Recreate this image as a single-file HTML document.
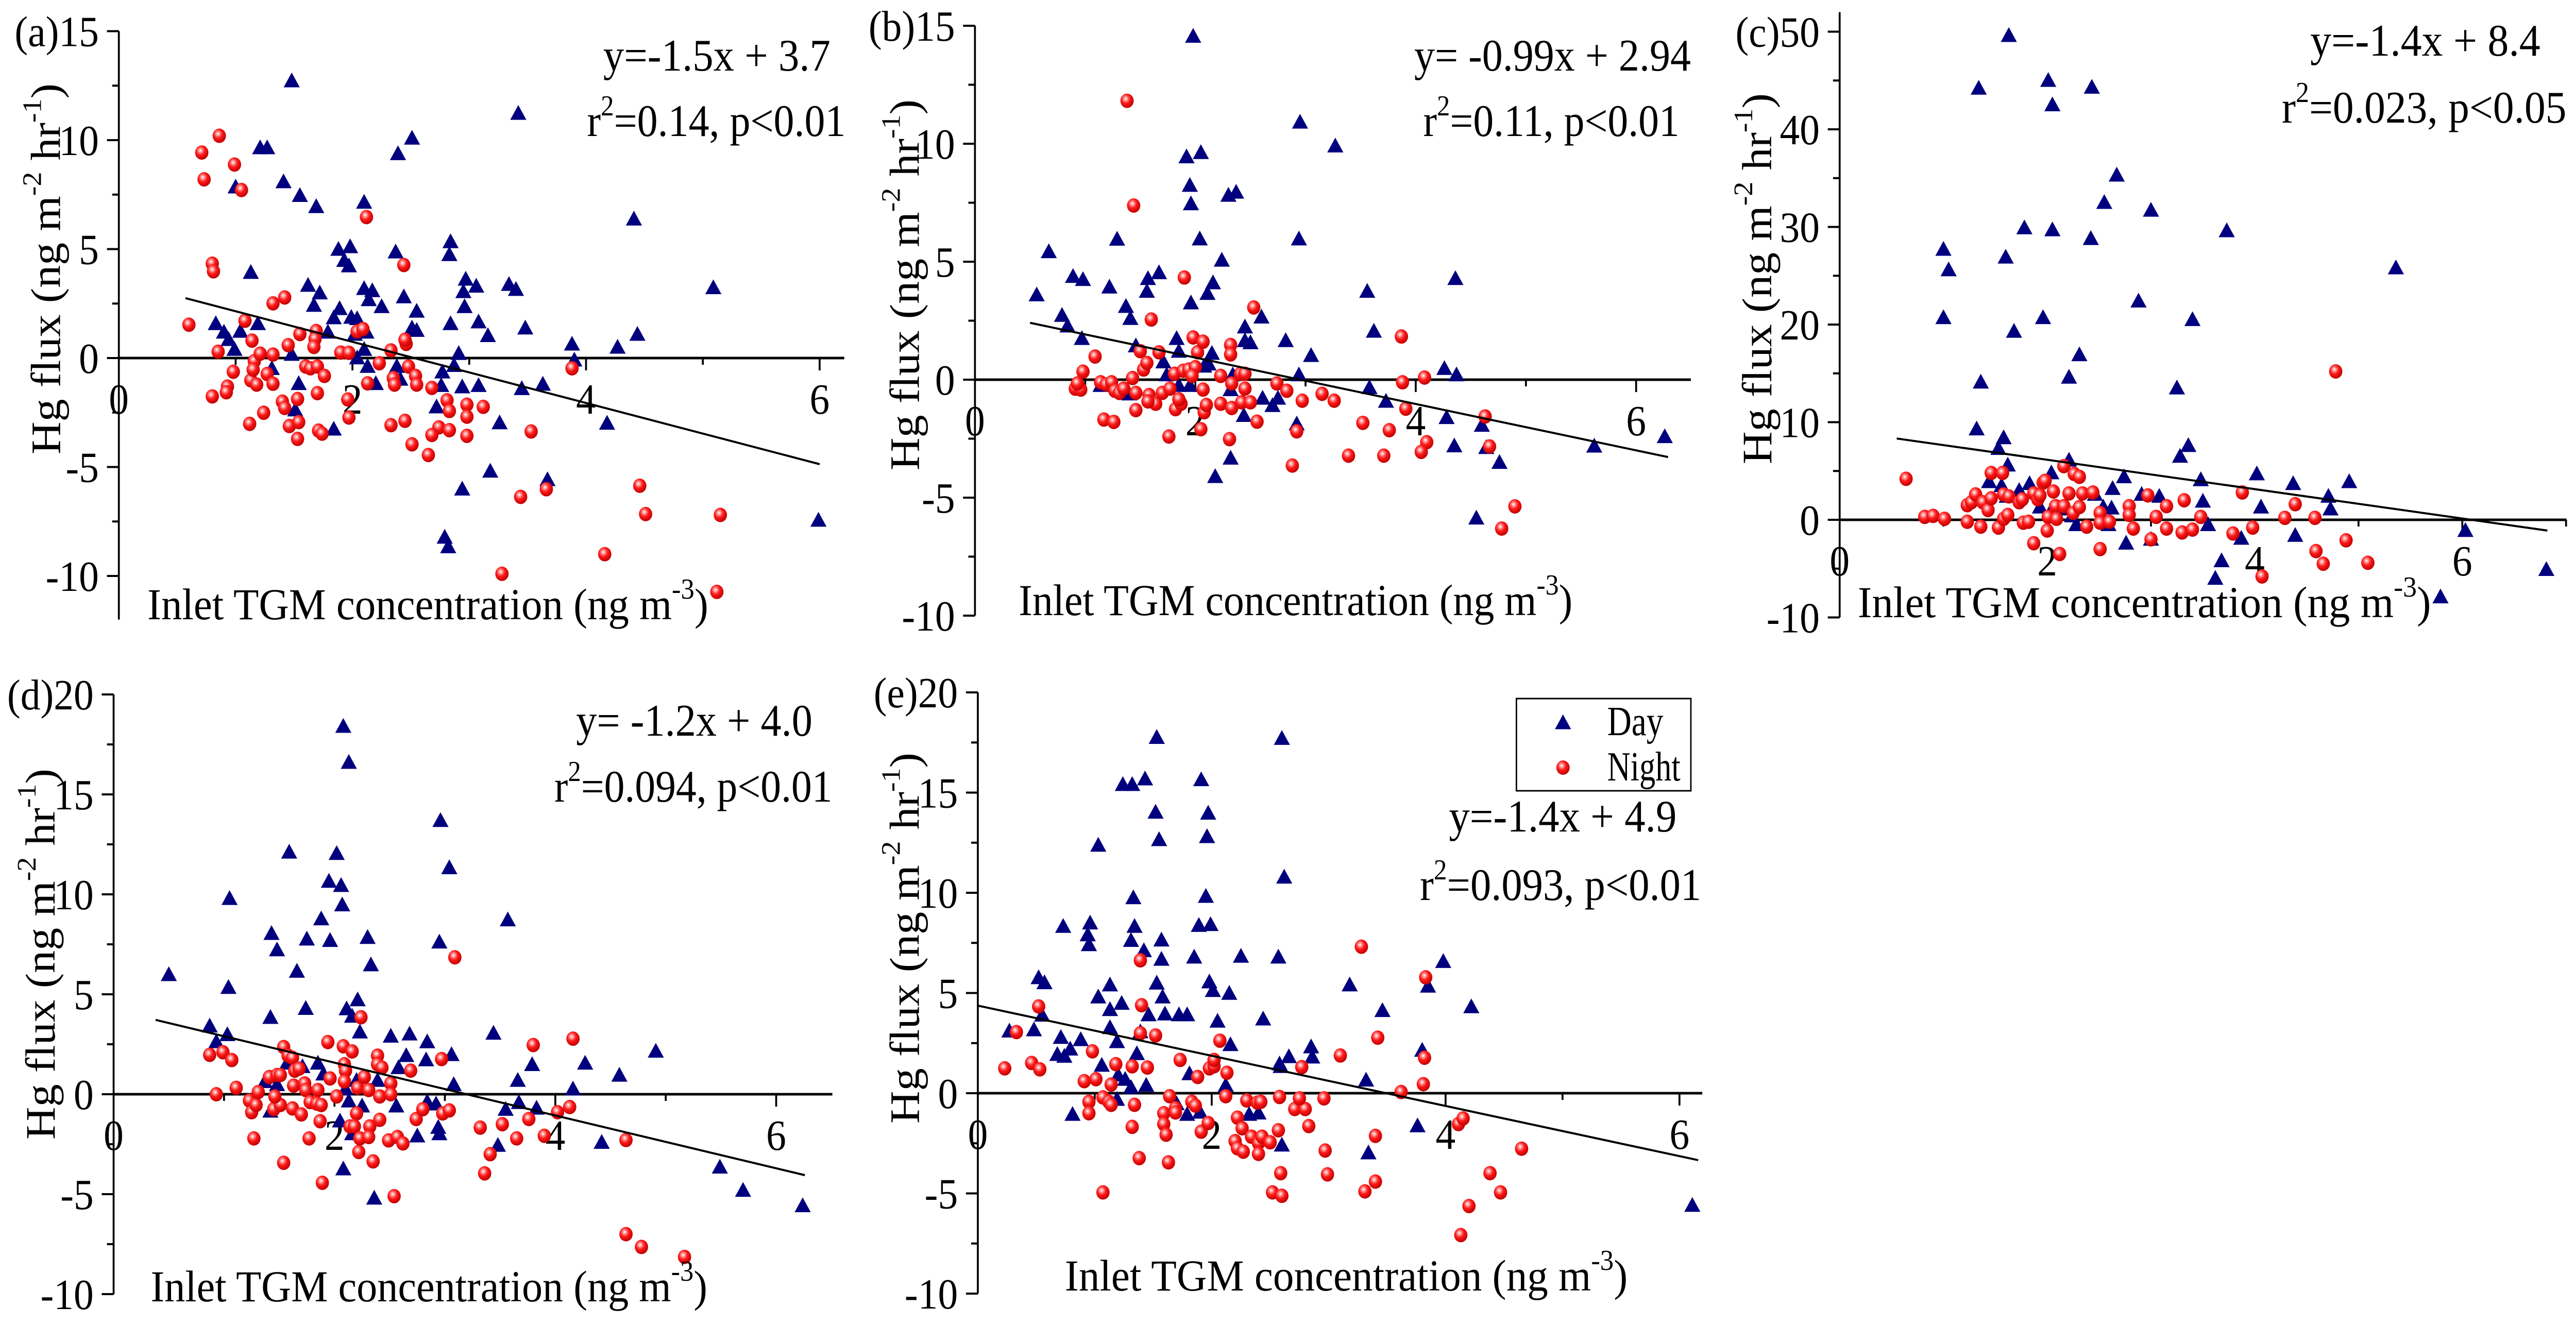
<!DOCTYPE html>
<html><head><meta charset="utf-8"><style>
html,body{margin:0;padding:0;background:#fff;width:100vw;height:100vh;overflow:hidden;}
svg{display:block;position:absolute;left:0;top:0;width:100vw;height:100vh;overflow:hidden;}
text{font-family:"Liberation Serif",serif;fill:#000;}
</style></head><body>
<svg id="fig" viewBox="0 0 5419 2570" preserveAspectRatio="none" xmlns="http://www.w3.org/2000/svg">
<defs>
<radialGradient id="ball" cx="0.4" cy="0.36" r="0.64">
<stop offset="0" stop-color="#ffffff"/><stop offset="0.2" stop-color="#ff9a9a"/><stop offset="0.5" stop-color="#ff1a1a"/><stop offset="1" stop-color="#c00000"/>
</radialGradient>
</defs>
</svg>
<script>
// ---- data (x = inlet TGM, y = Hg flux) ----
const aDay=[[1.48,12.67],[3.42,11.18],[1.21,9.6],[1.27,9.6],[2.39,9.33],[2.51,10.04],[1.0,7.8],[1.41,8.04],[1.55,7.41],[1.69,6.9],[2.1,7.1],[2.84,5.29],[2.83,4.7],[2.37,4.82],[1.88,4.94],[1.98,5.06],[1.93,4.43],[1.97,4.18],[4.41,6.33],[5.09,3.18],[1.13,3.88],[1.62,3.29],[1.72,2.94],[2.1,3.14],[2.17,3.04],[2.14,2.63],[2.25,2.31],[2.44,2.76],[2.55,2.1],[1.67,2.37],[1.89,2.22],[1.84,1.8],[1.99,1.82],[2.04,1.76],[2.97,3.57],[2.95,3.0],[2.96,2.31],[3.06,3.25],[3.34,3.33],[3.4,3.1],[2.84,1.53],[3.08,1.61],[3.16,0.98],[3.48,1.33],[2.51,1.33],[2.55,1.22],[0.83,1.53],[0.9,1.14],[0.94,0.8],[1.04,1.18],[1.19,1.53],[0.99,0.35],[1.48,0.12],[1.79,1.14],[3.88,0.59],[4.27,0.45],[4.44,1.04],[3.9,-0.14],[2.91,0.16],[2.87,-0.39],[2.77,-0.69],[2.76,-1.31],[2.94,-1.37],[3.08,-1.31],[3.45,-1.45],[3.63,-1.25],[2.72,-2.29],[3.26,-3.02],[4.18,-3.04],[3.18,-5.24],[2.94,-6.06],[3.67,-5.63],[2.79,-8.27],[2.82,-8.71],[5.99,-7.49],[1.54,-1.22],[1.51,-2.43],[1.84,-3.31],[2.2,-1.22],[2.13,-0.43],[2.38,-0.43],[2.41,-1.02],[1.31,-0.53],[2.04,-0.04],[2.1,0.35],[2.02,1.04],[2.12,1.14]];
const aNight=[[0.6,1.53],[0.71,9.43],[0.73,8.2],[0.86,10.2],[0.99,8.88],[1.05,7.71],[0.8,4.33],[0.81,3.98],[2.12,6.47],[2.44,4.27],[1.32,2.51],[1.42,2.78],[1.08,1.71],[0.85,0.29],[1.14,0.8],[0.98,-0.63],[0.8,-1.76],[0.93,-1.31],[0.92,-1.57],[1.13,-1.02],[1.16,-0.14],[1.15,-0.53],[1.21,0.2],[1.32,0.16],[1.27,-0.73],[1.32,-1.18],[1.24,-2.51],[1.12,-3.02],[1.18,-1.22],[1.45,0.59],[1.55,1.1],[1.69,1.24],[1.68,0.88],[1.67,0.51],[1.6,-0.39],[1.64,-0.47],[1.7,-0.39],[1.76,-0.82],[1.4,-2.0],[1.42,-2.29],[1.53,-1.88],[1.7,-1.61],[1.46,-3.12],[1.54,-2.94],[1.53,-3.71],[1.71,-3.33],[1.74,-3.47],[1.9,0.25],[1.97,0.24],[2.04,1.22],[2.09,1.33],[1.96,-1.9],[1.97,-2.73],[2.13,-1.16],[2.23,-0.24],[2.33,0.35],[2.46,0.65],[2.45,0.84],[2.48,-0.39],[2.35,-0.92],[2.36,-1.22],[2.54,-0.82],[2.55,-1.22],[2.68,-1.37],[2.81,-1.94],[2.83,-2.43],[2.98,-2.14],[2.98,-2.69],[3.12,-2.24],[2.33,-3.08],[2.45,-2.88],[2.74,-3.18],[2.68,-3.53],[2.83,-3.31],[2.98,-3.57],[2.51,-3.96],[2.65,-4.45],[3.53,-3.37],[3.88,-0.47],[3.28,-9.9],[3.44,-6.37],[3.66,-6.02],[4.16,-9.0],[4.46,-5.86],[4.51,-7.16],[5.15,-7.2],[5.12,-10.73]];
const aFitX=[0.57,6.0];
const aFitY=[2.75,-4.87];

const bDay=[[1.98,14.51],[0.56,3.55],[0.67,5.38],[0.79,2.68],[0.84,2.23],[0.89,4.33],[0.98,4.2],[0.97,1.7],[1.22,3.88],[1.29,5.91],[1.37,3.06],[1.41,2.55],[1.56,3.7],[1.57,4.24],[1.67,4.49],[1.46,1.39],[1.92,9.4],[2.05,9.58],[1.95,8.19],[1.96,7.41],[2.04,5.92],[1.96,3.21],[2.11,3.61],[2.16,4.06],[2.24,5.02],[2.3,7.77],[2.37,7.9],[1.83,1.7],[1.85,1.16],[2.45,2.19],[2.6,2.61],[2.45,1.61],[2.5,1.52],[2.82,1.61],[3.05,0.98],[2.95,10.87],[3.27,9.86],[2.94,5.92],[3.56,3.7],[3.62,2.01],[2.15,1.07],[2.12,0.62],[2.08,0.53],[2.94,0.16],[3.58,-0.38],[3.73,-0.96],[4.26,0.43],[4.37,0.16],[4.36,4.24],[4.28,-1.65],[4.35,-2.85],[4.6,-1.98],[4.64,-2.92],[4.76,-3.55],[4.55,-5.91],[5.62,-2.86],[6.26,-2.46],[2.18,-4.15],[2.32,-3.37],[2.44,-1.56],[2.61,-0.83],[2.7,-1.14],[2.75,-0.83],[2.92,-1.92],[1.62,-0.92],[1.14,-0.29],[1.4,-0.65],[1.71,0.71],[1.74,0.16],[1.85,-0.29],[1.95,-0.29],[2.32,-0.47],[2.34,0.16]];
const bNight=[[1.38,11.82],[1.44,7.38],[1.9,4.33],[1.6,2.55],[2.53,3.06],[3.87,1.83],[1.09,0.98],[0.98,0.34],[0.91,-0.38],[0.96,-0.42],[0.93,-0.16],[1.14,-0.11],[1.19,-0.2],[1.24,-0.11],[1.27,-0.47],[1.31,-0.56],[1.35,-0.38],[1.43,0.07],[1.46,-0.56],[1.5,1.21],[1.53,0.43],[1.56,0.71],[1.58,-0.65],[1.64,-1.02],[1.57,-0.92],[1.46,-1.29],[1.17,-1.69],[1.26,-1.79],[1.67,1.16],[1.7,-0.56],[1.77,-0.38],[1.81,0.25],[1.89,0.38],[1.94,0.43],[1.82,-1.25],[1.87,-1.02],[1.85,-0.83],[1.76,-2.41],[1.98,1.79],[2.02,1.16],[2.07,1.61],[2.0,0.53],[1.97,0.16],[2.07,-0.42],[2.08,-1.38],[2.1,-1.07],[2.05,-2.1],[2.23,0.16],[2.32,1.47],[2.32,1.07],[2.33,-0.16],[2.23,-1.02],[2.33,-1.2],[2.31,-2.52],[2.41,0.25],[2.45,0.25],[2.45,-0.38],[2.42,-0.96],[2.5,-0.96],[2.56,-1.78],[2.74,-0.16],[2.83,-0.47],[2.92,-2.19],[2.97,-0.89],[2.88,-3.64],[3.15,-0.6],[3.26,-0.89],[3.39,-3.22],[3.52,-1.83],[3.71,-3.22],[3.76,-2.14],[3.88,-0.11],[3.91,-1.23],[4.08,0.09],[4.1,-2.65],[4.05,-3.06],[4.63,-1.56],[4.67,-2.83],[4.9,-5.37],[4.78,-6.31]];
const bFitX=[0.5,6.29];
const bFitY=[2.41,-3.28];

const cDay=[[1.63,49.5],[1.34,44.1],[2.01,44.9],[2.05,42.4],[2.43,44.2],[2.67,35.2],[2.55,32.4],[3.0,31.6],[1.78,29.8],[2.05,29.6],[2.42,28.7],[3.73,29.5],[1.0,27.6],[1.05,25.5],[1.6,26.8],[5.36,25.7],[2.88,22.3],[1.0,20.6],[1.96,20.6],[3.4,20.4],[1.68,19.2],[2.31,16.8],[2.21,14.5],[1.36,14.0],[3.25,13.4],[1.32,9.2],[1.58,8.3],[1.53,7.2],[3.36,7.5],[3.28,6.4],[1.62,5.5],[2.21,6.0],[2.74,4.3],[2.04,4.7],[1.44,3.8],[3.48,4.0],[4.02,4.6],[4.37,3.6],[4.91,3.8],[4.71,2.3],[4.73,1.0],[4.06,1.2],[3.5,1.8],[2.63,3.1],[2.91,2.5],[3.08,2.3],[1.73,2.9],[1.83,3.6],[1.56,3.4],[1.61,2.3],[1.93,1.2],[2.03,0.7],[2.46,2.5],[2.54,1.2],[2.62,1.1],[2.28,-0.6],[2.59,-0.6],[3.55,-0.6],[3.87,-2.0],[3.0,-2.1],[2.76,-2.5],[4.39,-1.7],[3.68,-4.3],[3.62,-6.1],[6.03,-1.2],[6.81,-5.2],[5.79,-8.0],[2.24,0.3],[2.18,1.0]];
const cNight=[[0.64,4.2],[0.82,0.3],[0.9,0.4],[1.01,0.1],[1.23,1.5],[1.27,1.8],[1.31,2.6],[1.23,-0.2],[1.36,-0.7],[1.38,1.8],[1.43,1.0],[1.46,2.2],[1.46,4.8],[1.57,4.8],[1.53,-0.8],[1.58,0.1],[1.62,0.5],[1.58,2.6],[1.63,2.4],[1.73,1.8],[1.76,2.1],[1.77,-0.3],[1.82,-0.2],[1.87,-2.4],[1.87,2.7],[1.91,2.1],[1.96,3.8],[1.98,4.0],[1.93,2.5],[2.01,0.3],[2.0,-1.1],[2.06,2.9],[2.08,1.4],[2.09,0.1],[2.12,-3.5],[2.16,5.5],[2.16,1.4],[2.21,2.7],[2.26,4.7],[2.31,4.4],[2.25,0.7],[2.31,1.3],[2.34,2.7],[2.38,-0.7],[2.44,2.8],[2.51,0.7],[2.51,-0.3],[2.51,-3.0],[2.6,-0.2],[2.79,1.4],[2.79,0.5],[2.83,-0.9],[2.97,2.5],[3.0,-2.0],[3.05,0.3],[3.15,1.4],[3.15,-0.9],[3.32,2.0],[3.3,-1.3],[3.4,-1.0],[3.48,0.3],[3.79,-1.4],[3.88,2.8],[3.98,-0.8],[4.07,-5.8],[4.29,0.2],[4.39,1.6],[4.58,0.2],[4.59,-3.2],[4.66,-4.5],[4.78,15.2],[4.88,-2.1],[5.09,-4.4]];
const cFitX=[0.55,6.82];
const cFitY=[8.33,-1.1];

const dDay=[[0.5,5.93],[0.87,3.36],[0.93,2.57],[1.03,2.93],[1.05,9.74],[1.04,5.29],[1.42,3.79],[1.43,7.99],[1.48,7.17],[1.59,12.06],[1.66,6.1],[1.74,4.24],[1.75,7.71],[1.88,8.72],[1.95,10.6],[1.96,7.64],[2.02,11.99],[2.06,10.39],[2.07,9.42],[2.08,18.35],[2.13,16.55],[2.11,4.22],[2.16,3.85],[2.21,4.67],[2.23,3.06],[2.3,7.79],[2.33,6.42],[2.96,13.64],[3.04,11.28],[2.95,7.56],[3.57,8.67],[2.51,2.85],[2.68,2.96],[2.84,2.57],[2.83,1.67],[2.65,1.88],[3.06,1.93],[2.58,1.28],[3.08,0.43],[3.44,3.0],[3.79,1.43],[3.66,0.64],[4.16,0.21],[4.27,1.5],[4.58,0.9],[4.91,2.1],[3.55,-0.81],[3.67,-0.47],[3.83,-0.75],[4.42,-2.46],[3.48,-2.61],[2.75,-2.14],[2.94,-1.71],[2.95,-2.03],[2.84,-0.43],[2.92,-0.54],[2.56,-0.64],[2.08,-3.79],[2.36,-5.25],[5.49,-3.7],[5.7,-4.86],[6.24,-5.63],[1.37,0.58],[1.42,-0.9],[1.48,0.43],[1.57,1.5],[1.71,1.33],[1.85,1.5],[1.9,0.96],[2.05,-1.39],[2.1,0.21],[2.13,-0.39],[2.2,0.64],[2.25,-0.64],[2.39,0.64],[2.16,-2.03]];
const dNight=[[0.87,1.97],[0.99,2.1],[1.07,1.71],[0.93,0.0],[1.11,0.32],[1.23,-0.32],[1.25,-0.9],[1.29,-0.54],[1.31,0.11],[1.27,-2.21],[1.41,0.86],[1.48,0.96],[1.51,0.96],[1.45,-0.75],[1.51,-0.54],[1.46,-0.11],[1.54,2.36],[1.58,1.93],[1.62,1.82],[1.64,1.18],[1.68,1.28],[1.63,0.43],[1.73,0.54],[1.74,0.21],[1.62,-0.71],[1.7,-1.01],[1.54,-3.43],[1.78,-0.39],[1.85,0.21],[1.84,-0.47],[1.88,-0.54],[1.87,-1.35],[1.77,-2.21],[1.89,-4.43],[1.94,2.61],[1.96,0.79],[2.02,-0.11],[2.08,2.4],[2.16,2.14],[2.09,1.5],[2.1,1.18],[2.09,0.64],[2.14,-1.61],[2.2,-0.96],[2.18,-1.61],[2.21,0.32],[2.24,3.85],[2.22,-2.89],[2.23,-2.21],[2.27,0.86],[2.31,0.21],[2.32,-1.61],[2.31,-2.14],[2.35,-3.36],[2.39,1.93],[2.39,1.5],[2.43,1.33],[2.41,-0.11],[2.41,-1.28],[2.51,0.54],[2.51,0.0],[2.49,-2.31],[2.57,-2.14],[2.62,-2.46],[2.54,-5.1],[2.69,1.18],[2.74,-1.24],[2.8,-0.75],[2.97,1.76],[2.98,-0.96],[3.04,-0.81],[3.09,6.85],[3.32,-1.67],[3.41,-3.0],[3.36,-3.96],[3.52,-1.5],[3.65,-2.21],[3.76,-1.24],[3.8,2.46],[3.9,-2.08],[4.02,-0.9],[4.13,-0.64],[4.16,2.78],[4.64,-2.29],[4.64,-7.0],[4.78,-7.64],[5.17,-8.14]];
const dFitX=[0.38,6.26];
const dFitY=[3.72,-4.05];

const eDay=[[1.53,17.7],[2.6,17.65],[1.24,15.35],[1.32,15.35],[1.43,15.63],[1.91,15.59],[1.52,13.97],[1.97,13.92],[1.96,12.75],[1.55,12.6],[1.03,12.32],[2.62,10.73],[1.33,9.7],[1.95,9.77],[0.73,8.27],[0.96,8.44],[0.94,7.85],[0.95,7.36],[1.34,8.27],[1.89,8.32],[1.99,8.36],[1.31,7.57],[1.42,7.06],[1.57,7.59],[1.57,6.63],[1.85,6.74],[2.25,6.78],[2.57,6.74],[3.98,6.52],[0.52,5.71],[0.57,5.46],[1.13,5.35],[1.53,5.44],[1.98,5.5],[2.01,5.07],[2.15,4.93],[3.18,5.35],[3.85,5.29],[4.22,4.26],[3.46,4.07],[1.03,4.75],[1.23,4.43],[1.13,4.12],[1.58,4.75],[1.46,3.86],[1.6,3.9],[1.72,3.86],[1.79,3.86],[2.44,3.65],[2.05,3.54],[0.55,3.84],[0.27,3.05],[0.48,3.11],[0.71,2.73],[0.68,1.88],[0.79,2.15],[0.88,2.62],[0.74,1.79],[1.13,3.22],[1.19,2.52],[1.36,1.92],[1.39,3.01],[2.16,2.37],[2.85,2.26],[2.86,1.75],[2.66,1.77],[2.58,1.41],[2.59,1.28],[3.8,2.09],[1.06,1.34],[1.2,0.85],[1.26,0.64],[1.31,0.23],[1.44,0.34],[1.81,0.92],[2.12,0.34],[3.32,0.6],[0.81,-1.11],[1.19,-0.36],[1.7,-0.58],[1.79,-1.11],[1.9,-1.0],[2.32,-1.11],[2.4,-1.04],[2.6,-2.64],[3.34,-3.03],[3.76,-1.68],[6.11,-5.65]];
const eNight=[[0.23,1.24],[0.33,3.05],[0.46,1.51],[0.53,1.19],[0.52,4.33],[0.91,0.6],[0.95,-0.43],[0.95,-1.0],[0.98,2.09],[1.01,0.7],[1.07,-0.21],[1.12,-0.43],[1.14,0.43],[1.14,-0.58],[1.18,1.45],[1.07,-4.95],[1.32,1.34],[1.34,-0.58],[1.32,-1.68],[1.38,-3.24],[1.39,6.63],[1.4,4.39],[1.39,2.99],[1.45,1.28],[1.52,2.88],[1.64,-0.15],[1.59,-1.0],[1.59,-1.54],[1.61,-2.07],[1.63,-3.45],[1.69,-0.75],[1.69,-0.96],[1.73,1.66],[1.83,-0.43],[1.86,-0.62],[1.88,0.81],[1.91,-1.92],[1.97,-1.49],[1.98,1.24],[2.02,1.34],[2.02,1.66],[2.07,2.62],[2.13,1.02],[2.12,-0.15],[2.22,-1.22],[2.26,-1.75],[2.3,-0.36],[2.39,-0.47],[2.42,-0.43],[2.2,-2.39],[2.22,-2.75],[2.27,-2.92],[2.34,-2.17],[2.4,-2.49],[2.4,-3.03],[2.43,-2.17],[2.5,-2.45],[2.52,-4.95],[2.6,-5.12],[2.59,-3.99],[2.58,-0.19],[2.57,-1.85],[2.71,-0.79],[2.8,-0.79],[2.75,-0.26],[2.77,1.3],[2.83,-1.64],[2.96,-0.26],[2.97,-2.86],[2.99,-4.05],[3.1,1.88],[3.28,7.31],[3.31,-4.9],[3.4,-4.41],[3.4,-2.13],[3.42,2.77],[3.62,0.06],[3.81,0.45],[3.82,1.77],[3.83,5.78],[4.11,-1.54],[4.15,-1.26],[4.13,-7.08],[4.2,-5.63],[4.38,-3.99],[4.47,-4.95],[4.65,-2.77]];
const eFitX=[0,6.16];
const eFitY=[4.37,-3.34];

const xTickLabels=["0","2","4","6"];
const eqA=["y=-1.5x + 3.7","=0.14, p<0.01"];
const eqB=["y= -0.99x + 2.94","=0.11, p<0.01"];
const eqC=["y=-1.4x + 8.4","=0.023, p<0.05"];
const eqD=["y= -1.2x + 4.0","=0.094, p<0.01"];
const eqE=["y=-1.4x + 4.9","=0.093, p<0.01"];

// ---- layout ----
const NS="http://www.w3.org/2000/svg";
const svg=document.getElementById('fig');
function mk(tag,attrs,parent){const e=document.createElementNS(NS,tag);for(const k in attrs)e.setAttribute(k,attrs[k]);(parent||svg).appendChild(e);return e;}

const panels=[
 {id:'a',ox:250,oy:695,ux:245.7,uy:42.3,ymin:-12,ymax:15,ymaj:5,ymin2:2.5,yl0:-10,xEnd:1776,day:aDay,night:aNight,fx:aFitX,fy:aFitY,eq:eqA,eqx:[1269,1235],eqy:[137,264],eqw:[478,544],tx:310,ty:1202,tw:1180,yt:[126,522]},
 {id:'b',ox:2051,oy:737,ux:231.8,uy:45.8,ymin:-10,ymax:15,ymaj:5,ymin2:2.5,yl0:-10,xEnd:3557,day:bDay,night:bNight,fx:bFitX,fy:bFitY,eq:eqB,eqx:[2975,2994],eqy:[137,264],eqw:[582,539],tx:2143,ty:1194,tw:1165,yt:[1933,553]},
 {id:'c',ox:3870,oy:1009,ux:218.3,uy:18.95,ymin:-10,ymax:52,ymaj:10,ymin2:5,yl0:-10,xEnd:5399,day:cDay,night:cNight,fx:cFitX,fy:cFitY,eq:eqC,eqx:[4860,4800],eqy:[108,238],eqw:[484,599],tx:3908,ty:1198,tw:1206,yt:[3726,541]},
 {id:'d',ox:239,oy:2124,ux:232.3,uy:38.8,ymin:-10,ymax:20,ymaj:5,ymin2:2.5,yl0:-10,xEnd:1751,day:dDay,night:dNight,fx:dFitX,fy:dFitY,eq:eqD,eqx:[1212,1166],eqy:[1428,1556],eqw:[497,585],tx:317,ty:2526,tw:1171,yt:[115,1852]},
 {id:'e',ox:2057,oy:2122,ux:246,uy:38.9,ymin:-10,ymax:20,ymaj:5,ymin2:2.5,yl0:-10,xEnd:3581,day:eDay,night:eNight,fx:eFitX,fy:eFitY,eq:eqE,eqx:[3048,2987],eqy:[1614,1747],eqw:[479,592],tx:2240,ty:2505,tw:1184,yt:[1933,1821]}
];

function tri(g,cx,cy){
  const w=17,h=14;
  const p=mk('polygon',{points:`${cx-w},${cy+h*0.75} ${cx+w},${cy+h*0.75} ${cx},${cy-h*1.3}`,fill:'#00007f'},g);
  
  
}
function ball(g,cx,cy){
  const c=mk('circle',{cx:cx,cy:cy,r:14,fill:'url(#ball)'},g);
  
  
}

panels.forEach(P=>{
  const g=mk('g',{});
  
  
  const X=v=>P.ox+v*P.ux, Y=v=>P.oy-v*P.uy;
  const ya=mk('line',{x1:P.ox,y1:Y(P.ymax),x2:P.ox,y2:Y(P.ymin),stroke:'#000','stroke-width':4},g);
  
  
  for(let v=P.yl0; v<=P.ymax+1e-6; v+=P.ymin2){
    const major=Math.abs(v/P.ymaj-Math.round(v/P.ymaj))<1e-6;
    mk('line',{x1:P.ox-(major?25:14),y1:Y(v),x2:P.ox,y2:Y(v),stroke:'#000','stroke-width':4},g);
    if(major){
      const t=mk('text',{x:P.ox-42,y:Y(v)+29,'font-size':84,'text-anchor':'end'},g);
      t.textContent=(v===P.ymax||(P.id==='c'&&v===50)?'('+P.id+')':'')+v;
      
      
    }
  }
  const xa=mk('line',{x1:P.ox,y1:P.oy,x2:P.xEnd,y2:P.oy,stroke:'#000','stroke-width':5},g);
  
  
  for(let v=1; X(v)<=P.xEnd; v++){
    mk('line',{x1:X(v),y1:P.oy,x2:X(v),y2:P.oy+(v%2===0?24:13),stroke:'#000','stroke-width':4},g);
  }
  xTickLabels.forEach((s,i)=>{
    const t=mk('text',{x:X(i*2),y:P.oy+108,'font-size':84,'text-anchor':'middle'},g);
    t.textContent=s;
    
    
  });
  P.day.forEach(d=>tri(g,X(d[0]),Y(d[1])));
  P.night.forEach(d=>ball(g,X(d[0]),Y(d[1])));
  const fl=mk('line',{x1:X(P.fx[0]),y1:Y(P.fy[0]),x2:X(P.fx[1]),y2:Y(P.fy[1]),stroke:'#000','stroke-width':4},g);
  
  
  const e1=mk('text',{x:P.eqx[0],y:P.eqy[0],'font-size':88,textLength:P.eqw[0],lengthAdjust:'spacingAndGlyphs'},g);
  e1.textContent=P.eq[0];
  
  
  const e2=mk('text',{x:P.eqx[1],y:P.eqy[1],'font-size':88,textLength:P.eqw[1],lengthAdjust:'spacingAndGlyphs'},g);
  
  
  e2.innerHTML='r<tspan font-size="56" dy="-40">2</tspan><tspan dy="40">'+P.eq[1]+'</tspan>';
  const xt=mk('text',{x:P.tx,y:P.ty,'font-size':86,textLength:P.tw,lengthAdjust:'spacingAndGlyphs'},g);
  
  
  xt.innerHTML='Inlet TGM concentration (ng m<tspan font-size="56" dy="-40">-3</tspan><tspan dy="40">)</tspan>';
  const yt=mk('text',{x:-360,y:0,'font-size':88,textLength:720,lengthAdjust:'spacingAndGlyphs',transform:`translate(${P.yt[0]},${P.yt[1]}) rotate(-90)`},g);
  
  
  yt.innerHTML='Hg flux (ng m<tspan font-size="56" dy="-40">-2</tspan><tspan dy="40"> hr</tspan><tspan font-size="56" dy="-40">-1</tspan><tspan dy="40">)</tspan>';
});

const lg=mk('g',{});


mk('rect',{x:3190,y:1356,width:367,height:179,fill:'#fff',stroke:'#000','stroke-width':3},lg);
tri(lg,3288,1405);
ball(lg,3288,1490);
const l1=mk('text',{x:3381,y:1427,'font-size':80,textLength:118,lengthAdjust:'spacingAndGlyphs'},lg);
l1.textContent='Day';


const l2=mk('text',{x:3381,y:1515,'font-size':80,textLength:154,lengthAdjust:'spacingAndGlyphs'},lg);
l2.textContent='Night';


</script>
</body></html>
